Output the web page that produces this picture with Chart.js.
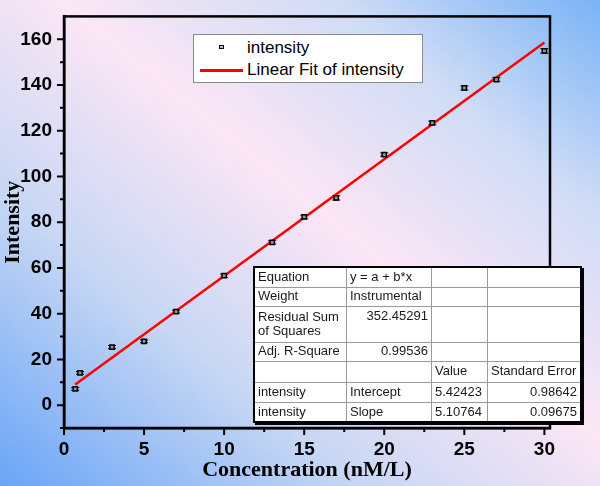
<!DOCTYPE html>
<html>
<head>
<meta charset="utf-8">
<script src="https://cdn.jsdelivr.net/npm/chart.js@4"></script>
<style>
  html, body { margin: 0; padding: 0; }
  body {
    width: 600px; height: 486px; overflow: hidden;
    background: linear-gradient(to top right, #69a5f7 0%, #c7d7f4 30%, #fbe6f5 55%, #cfdcf6 78%, #78b3f6 100%);
  }
  #wrap { position: relative; width: 600px; height: 486px; }
  #legend {
    position: absolute; left: 193px; top: 34px; width: 228px; height: 47px;
    background: #fff; border: 1px solid #8a8a8a;
    font: 17px "Liberation Sans", Arial, sans-serif; color: #000;
  }
  #legend .row { position: absolute; left: 0; height: 20px; line-height: 20px; }
  #legend .lbl { position: absolute; left: 53px; white-space: nowrap; }
  #legend .mk { position: absolute; left: 25px; top: 7px; width: 3px; height: 2px; border: 1.5px solid #000; background: #bbb; }
  #legend .ln { position: absolute; left: 6px; top: 9px; width: 43px; height: 3px; background: #ff0000; }
  #stats {
    position: absolute; left: 253px; top: 266px; border-collapse: collapse;
    border: 2px solid #000; box-shadow: 2px 2px 0 #000; background: #fff;
    font: 13px "Liberation Sans", Arial, sans-serif; color: #1a1a1a;
  }
  #stats td { border: 1px solid #9a9a9a; padding: 0 3px; white-space: nowrap; vertical-align: middle; line-height: 14.5px; }
  #stats td.r { text-align: right; }
  #stats td.t { vertical-align: top; padding-top: 2px; }
</style>
</head>
<body>
<div id="wrap">
  <canvas id="myChart" width="600" height="486"></canvas>
  <div id="legend"></div>
  <table id="stats"></table>
</div>
<script>
// data
const concentration = [0.7, 1, 3, 5, 7, 10, 13, 15, 17, 20, 23, 25, 27, 30];
const intensity = [7.1, 14.1, 25.4, 27.9, 40.9, 56.6, 71.2, 82.3, 90.6, 109.6, 123.4, 138.7, 142.4, 154.9];
const intensityErr = [0.6, 0.6, 0.7, 0.6, 0.6, 0.7, 0.7, 0.8, 0.9, 0.7, 0.8, 0.9, 0.8, 1.0];
const fitX = [0.7, 30];
const fitY = [9.0, 158.6];
const xTickLabels = [0, 5, 10, 15, 20, 25, 30];
const yTickLabels = [0, 20, 40, 60, 80, 100, 120, 140, 160];
const seriesNames = ['intensity', 'Linear Fit of intensity'];

const statsRows = [
  ['Equation', 'y = a + b*x', '', ''],
  ['Weight', 'Instrumental', '', ''],
  ['Residual Sum<br>of Squares', '352.45291', '', ''],
  ['Adj. R-Square', '0.99536', '', ''],
  ['', '', 'Value', 'Standard Error'],
  ['intensity', 'Intercept', '5.42423', '0.98642'],
  ['intensity', 'Slope', '5.10764', '0.09675']
];
const statsRowHeights = [20, 19, 36, 19, 21, 20, 20];
const statsColWidths = [92, 85, 56, 93];

// legend
const legend = document.getElementById('legend');
legend.innerHTML =
  '<div class="row" style="top:3px"><span class="mk"></span><span class="lbl">' + seriesNames[0] + '</span></div>' +
  '<div class="row" style="top:25px;width:100%"><span class="ln"></span><span class="lbl">' + seriesNames[1] + '</span></div>';

// stats table
const table = document.getElementById('stats');
statsRows.forEach(function(row, i) {
  let tr = document.createElement('tr');
  tr.style.height = statsRowHeights[i] + 'px';
  row.forEach(function(txt, j) {
    let td = document.createElement('td');
    td.innerHTML = txt;
    td.style.width = (statsColWidths[j] - 7) + 'px';
    if (i === 2 && j === 1) td.className = 'r t';
    else if ((i === 3 && j === 1) || (j === 3 && i >= 5)) td.className = 'r';
    tr.appendChild(td);
  });
  table.appendChild(tr);
});

// plot frame, tick marks and error bars
const framePlugin = {
  id: 'frame',
  beforeDatasetsDraw(chart) {
    const ctx = chart.ctx, x = chart.scales.x, y = chart.scales.y;
    ctx.save();
    ctx.strokeStyle = '#000';
    ctx.lineWidth = 1;
    for (let i = 0; i < concentration.length; i++) {
      let px = x.getPixelForValue(concentration[i]);
      let top = y.getPixelForValue(intensity[i] + intensityErr[i]);
      let bot = y.getPixelForValue(intensity[i] - intensityErr[i]);
      ctx.beginPath();
      ctx.moveTo(px, top); ctx.lineTo(px, bot);
      ctx.moveTo(px - 4, top); ctx.lineTo(px + 4, top);
      ctx.moveTo(px - 4, bot); ctx.lineTo(px + 4, bot);
      ctx.stroke();
    }
    ctx.restore();
  },
  afterDraw(chart) {
    const ctx = chart.ctx, a = chart.chartArea, x = chart.scales.x, y = chart.scales.y;
    ctx.save();
    ctx.strokeStyle = '#000';
    ctx.lineWidth = 2.5;
    ctx.strokeRect(a.left, a.top, a.right - a.left, a.bottom - a.top);
    ctx.lineWidth = 2;
    ctx.beginPath();
    x.ticks.forEach(function(t) {
      if (t.value % 2.5 !== 0) return;
      let px = x.getPixelForValue(t.value);
      let len = t.value % 5 === 0 ? 7 : 4;
      ctx.moveTo(px, a.bottom); ctx.lineTo(px, a.bottom + len);
    });
    y.ticks.forEach(function(t) {
      if (t.value > 160) return;
      let py = y.getPixelForValue(t.value);
      let len = yTickLabels.includes(t.value) ? 7 : 4;
      ctx.moveTo(a.left, py); ctx.lineTo(a.left - len, py);
    });
    ctx.stroke();
    ctx.restore();
  }
};

const tickFont = { family: '"Liberation Sans", Arial, sans-serif', size: 19, weight: 'bold' };
const titleFont = { family: '"Liberation Serif", "Times New Roman", serif', size: 22, weight: 'bold' };

new Chart('myChart', {
  type: 'scatter',
  data: {
    datasets: [
      {
        label: seriesNames[0],
        data: concentration.map((c, i) => ({ x: c, y: intensity[i] })),
        pointStyle: 'rect',
        pointRadius: 3,
        borderColor: '#000',
        backgroundColor: '#999',
        borderWidth: 1.5
      },
      {
        label: seriesNames[1],
        type: 'line',
        data: fitX.map((c, i) => ({ x: c, y: fitY[i] })),
        borderColor: '#ff0000',
        borderWidth: 2.5,
        pointRadius: 0,
        fill: false
      }
    ]
  },
  options: {
    responsive: false,
    animation: false,
    devicePixelRatio: 1,
    layout: { padding: { top: 16, right: 50, left: 0, bottom: 0 } },
    plugins: { legend: { display: false }, tooltip: { enabled: false } },
    scales: {
      x: {
        type: 'linear', min: 0, max: 30.35,
        afterBuildTicks: function(s) {
          let t = [];
          for (let v = 0; v <= 30; v += 2.5) t.push({ value: v });
          s.ticks = t;
        },
        afterFit: function(s) { s.height = 58; },
        grid: { display: true, drawOnChartArea: false, drawTicks: true, tickLength: 7, color: 'rgba(0,0,0,0)' },
        border: { display: true, color: '#000', width: 2.5 },
        ticks: {
          color: '#000', font: tickFont, padding: 3, autoSkip: false, maxRotation: 0,
          callback: v => xTickLabels.includes(v) ? v : ''
        },
        title: { display: true, text: 'Concentration (nM/L)', color: '#000', font: titleFont, padding: { top: 0, bottom: 2 } }
      },
      y: {
        type: 'linear', min: -10, max: 170,
        afterBuildTicks: function(s) {
          let t = [];
          for (let v = -10; v <= 160; v += 10) t.push({ value: v });
          s.ticks = t;
        },
        afterFit: function(s) { s.width = 64; },
        grid: { display: true, drawOnChartArea: false, drawTicks: true, tickLength: 7, color: 'rgba(0,0,0,0)' },
        border: { display: true, color: '#000', width: 2.5 },
        ticks: {
          color: '#000', font: tickFont, padding: 5, autoSkip: false,
          callback: v => yTickLabels.includes(v) ? v : ''
        },
        title: { display: true, text: 'Intensity', color: '#000', font: titleFont, padding: { top: 0, bottom: 0 } }
      }
    }
  },
  plugins: [framePlugin]
});
</script>
</body>
</html>
